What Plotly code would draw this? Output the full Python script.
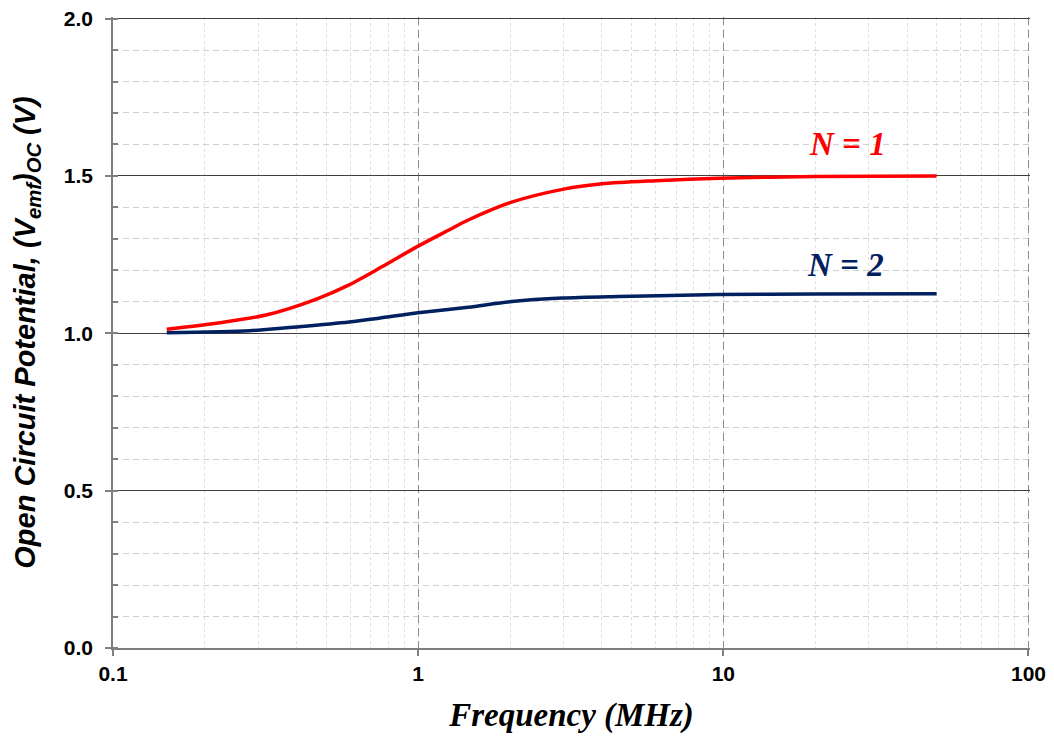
import math
import plotly.graph_objects as go

# Data
freq_n1 = [0.15, 0.218, 0.317, 0.462, 0.594, 0.763, 1.0, 1.26, 1.46, 2.0, 3.0, 4.0, 6.0, 9.6, 20, 50]
v_n1 = [1.013, 1.032, 1.058, 1.108, 1.154, 1.212, 1.277, 1.328, 1.360, 1.415, 1.458, 1.475, 1.485, 1.493, 1.498, 1.500]

freq_n2 = [0.15, 0.28, 0.407, 0.594, 0.744, 1.0, 1.46, 2.03, 2.96, 4.53, 9.6, 20, 50]
v_n2 = [1.002, 1.008, 1.021, 1.036, 1.048, 1.065, 1.083, 1.101, 1.112, 1.117, 1.123, 1.125, 1.126]

series_labels = ["N = 1", "N = 2"]
label_x = [25.6, 25.1]
label_y = [1.60, 1.217]
colors = ["#FF0000", "#002060"]

x_ticks = [0.1, 1, 10, 100]
x_ticklabels = ["0.1", "1", "10", "100"]
y_ticks = [0.0, 0.5, 1.0, 1.5, 2.0]
y_ticklabels = ["0.0", "0.5", "1.0", "1.5", "2.0"]

fig = go.Figure()
fig.add_trace(go.Scatter(x=freq_n1, y=v_n1, mode="lines",
                         line=dict(color=colors[0], width=3.5, shape="spline", smoothing=0.8),
                         name=series_labels[0], showlegend=False))
fig.add_trace(go.Scatter(x=freq_n2, y=v_n2, mode="lines",
                         line=dict(color=colors[1], width=3.5, shape="spline", smoothing=0.8),
                         name=series_labels[1], showlegend=False))

for lbl, lx, ly, c in zip(series_labels, label_x, label_y, colors):
    fig.add_annotation(x=math.log10(lx), y=ly, text=lbl, showarrow=False,
                       font=dict(family="Liberation Serif", size=33, color=c,
                                 weight="bold", style="italic"))

tick_font = dict(family="Liberation Sans", size=21, color="black", weight="bold")

fig.update_xaxes(
    type="log", range=[-1, 2.005], automargin=False,
    tickvals=x_ticks, ticktext=x_ticklabels,
    tickfont=tick_font, ticklabeloverflow="allow",
    showline=True, linecolor="#7f7f7f", linewidth=1.5,
    ticks="outside", ticklen=6, tickcolor="#7f7f7f", tickwidth=1.5,
    showgrid=True, gridcolor="#8c8c8c", gridwidth=1.3, griddash="8px,5px",
    minor=dict(dtick="D1", showgrid=True, gridcolor="#dedede", gridwidth=1,
               griddash="3px,3px", ticks=""),
    zeroline=False,
    title=dict(text="Frequency (MHz)", standoff=19,
               font=dict(family="Liberation Serif", size=33, color="black",
                         weight="bold", style="italic")),
)
fig.update_yaxes(
    range=[0, 2.005], automargin=False,
    tickvals=y_ticks, ticktext=y_ticklabels,
    tickfont=tick_font, ticklabelstandoff=8, ticklabeloverflow="allow",
    showline=True, linecolor="#7f7f7f", linewidth=1.5,
    ticks="outside", ticklen=6, tickcolor="#7f7f7f", tickwidth=1.5,
    showgrid=True, gridcolor="#404040", gridwidth=1,
    minor=dict(dtick=0.1, showgrid=True, gridcolor="#d0d0d0", gridwidth=1.3,
               griddash="6px,4px", ticks="inside", ticklen=5, tickcolor="#7f7f7f",
               tickwidth=1.5),
    zeroline=False,
    title=dict(text="Open Circuit Potential, (V<sub>emf</sub>)<sub>OC</sub> (V)",
               standoff=20,
               font=dict(family="Liberation Sans", size=29, color="black",
                         weight="bold", style="italic")),
)

# the page body adds an 8px offset, so the figure is sized to compensate
fig.update_layout(
    width=1046, height=730,
    margin=dict(l=105, r=24, t=9, b=90),
    paper_bgcolor="white", plot_bgcolor="white",
)

fig.write_html("out.html")
